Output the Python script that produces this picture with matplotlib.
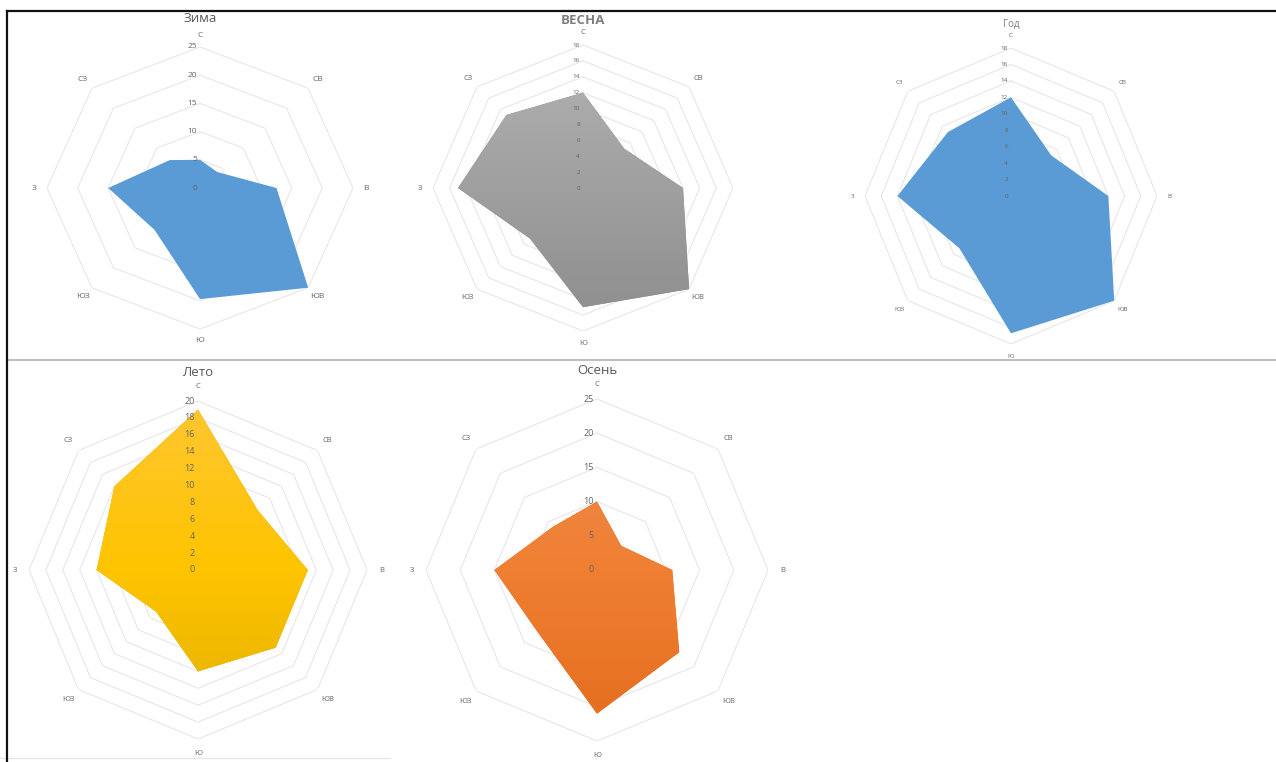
import numpy as np
import matplotlib.pyplot as plt
from matplotlib.colors import LinearSegmentedColormap
from matplotlib.lines import Line2D
from matplotlib.transforms import offset_copy

plt.rcParams['font.family'] = ['Open Sans', 'DejaVu Sans']

# Румбы
rumby = ["С", "СВ", "В", "ЮВ", "Ю", "ЮЗ", "З", "СЗ"]

# Повторяемость ветра по сезонам
zima = [5, 4, 12.5, 25, 19.7, 10.5, 15, 7]
vesna = [12, 7, 12, 18, 15, 9, 15, 13]
god = [12, 7, 12, 18, 16.7, 9, 14, 11]
leto = [19, 10, 13, 13, 12, 7, 12, 14]
osen = [10, 5, 11, 17, 21, 12.5, 15, 9]

# Деления шкал
ticks_zima = [0, 5, 10, 15, 20, 25]
ticks_vesna = [0, 2, 4, 6, 8, 10, 12, 14, 16, 18]
ticks_god = [0, 2, 4, 6, 8, 10, 12, 14, 16, 18]
ticks_leto = [0, 2, 4, 6, 8, 10, 12, 14, 16, 18, 20]
ticks_osen = [0, 5, 10, 15, 20, 25]

W, H = 1276, 762
fig = plt.figure(figsize=(W / 100, H / 100), dpi=100)

theta = np.linspace(0, 2 * np.pi, len(rumby), endpoint=False)
theta_c = np.append(theta, theta[0])


def radar(cx, cy, rx, ry, vals, ticks, cols, title, tfont, ty, tsize=6,
          lsize=6, hide=()):
    ax = fig.add_axes([(cx - rx) / W, (H - cy - ry) / H, 2 * rx / W, 2 * ry / H],
                      projection='polar')
    ax.set_aspect('auto')
    ax.set_theta_zero_location('N')
    ax.set_theta_direction(-1)
    rmax = ticks[-1]
    ax.set_ylim(0, rmax)
    ax.set_autoscale_on(False)
    ax.grid(False)
    ax.spines['polar'].set_visible(False)
    ax.set_xticks([])
    ax.set_yticks([])
    ax.patch.set_alpha(0)

    # восьмиугольная сетка
    for t in ticks[1:]:
        ax.plot(theta_c, [t] * len(theta_c), color='#E9E9E9', lw=0.9, zorder=1)

    v = np.append(vals, vals[0])
    poly = ax.fill(theta_c, v, color=cols[-1], lw=0, zorder=2)[0]
    if len(cols) > 1:
        cmap = LinearSegmentedColormap.from_list('g', cols[::-1])
        grad = np.linspace(0, 1, 256).reshape(-1, 1)
        im = ax.imshow(grad, extent=(0, 1, 0, 1), transform=ax.transAxes,
                       aspect='auto', cmap=cmap, origin='lower', zorder=3)
        im.set_clip_path(poly)
        ax.set_xlim(0, 2 * np.pi)
        ax.set_ylim(0, rmax)

    # подписи шкалы
    tr = offset_copy(ax.transData, fig=fig, x=-3, y=0, units='dots')
    for t in ticks:
        ax.text(0, t, str(t), transform=tr, ha='right', va='center',
                fontsize=tsize, color='#636363', zorder=4)

    # подписи румбов
    for a, lab in zip(theta, rumby):
        if lab in hide:
            continue
        ax.text(a, rmax * 1.085, lab, ha='center', va='center',
                fontsize=lsize, color='#636363', clip_on=False)

    fig.text(cx / W, 1 - ty / H, title, ha='center', va='center', **tfont)
    return ax


blue = ['#5B9BD5']
radar(200, 188, 153, 141, zima, ticks_zima, blue, "Зима",
      dict(fontsize=9.5, color='#595959'), 18)
radar(583, 188, 150, 143, vesna, ticks_vesna, ['#B2B2B2', '#8D8D8D'], "ВЕСНА",
      dict(fontsize=9.5, color='#7F7F7F', fontweight='bold'), 20,
      tsize=4.5, lsize=5.5, hide=("В",))
radar(1011, 196, 146, 148, god, ticks_god, blue, "Год",
      dict(fontsize=7, color='#7F7F7F'), 24, tsize=4.5, lsize=4.5)
radar(198, 570, 169, 169, leto, ticks_leto, ['#FEC632', '#FFC400', '#E0B000'],
      "Лето", dict(fontsize=9.5, color='#595959'), 372, tsize=6.5, lsize=5.5)
radar(597, 570, 171, 171, osen, ticks_osen, ['#EE8C50', '#F07F32', '#E46C1E'],
      "Осень", dict(fontsize=9.5, color='#595959'), 371, tsize=6.5, lsize=5.5)

# рамки
def hline(x0, x1, y, c, lw):
    fig.add_artist(Line2D([x0 / W, x1 / W], [1 - y / H, 1 - y / H],
                          transform=fig.transFigure, color=c, lw=lw))

hline(7, W, 11, '#111111', 1.6)
hline(8, W, 360, '#BDBDBD', 1.4)
hline(0, 390, 758, '#E6E6E6', 1.0)
fig.add_artist(Line2D([7 / W, 7 / W], [0, 1 - 11 / H], transform=fig.transFigure,
                      color='#111111', lw=1.6))

fig.savefig('out.png', dpi=100)
